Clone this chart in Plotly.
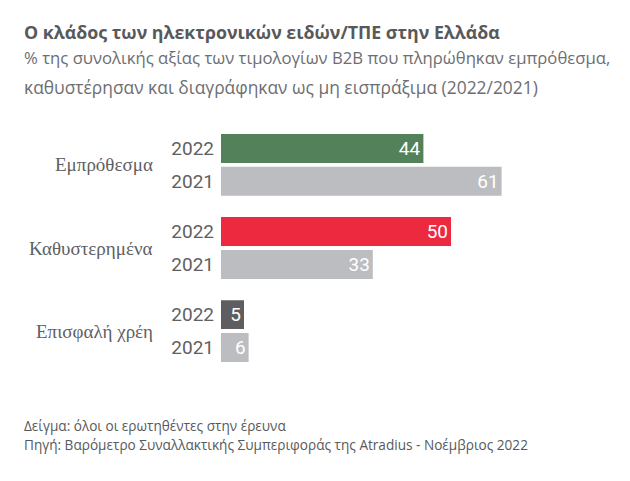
import plotly.graph_objects as go
from plotly.subplots import make_subplots

# data
categories = ["Εμπρόθεσμα", "Καθυστερημένα", "Επισφαλή χρέη"]
years = ["2022", "2021"]
values_2022 = [44, 50, 5]
values_2021 = [61, 33, 6]
colors_2022 = ["#53825a", "#ed2940", "#5e5e60"]
color_2021 = "#bcbdc0"

title_text = "Ο κλάδος των ηλεκτρονικών ειδών/ΤΠΕ στην Ελλάδα"
subtitle_lines = [
    "% της συνολικής αξίας των τιμολογίων B2B που πληρώθηκαν εμπρόθεσμα,",
    "καθυστέρησαν και διαγράφηκαν ως μη εισπράξιμα (2022/2021)",
]
footer_lines = [
    "Δείγμα: όλοι οι ερωτηθέντες στην έρευνα",
    "Πηγή: Βαρόμετρο Συναλλακτικής Συμπεριφοράς της Atradius - Νοέμβριος 2022",
]

text_grey = "#5f6062"

fig = make_subplots(rows=3, cols=1, shared_xaxes=True, vertical_spacing=0.0746)

for i, cat in enumerate(categories):
    fig.add_trace(go.Bar(
        y=years,
        x=[values_2022[i], values_2021[i]],
        orientation="h",
        marker=dict(color=[colors_2022[i], color_2021], line_width=0),
        text=[values_2022[i], values_2021[i]],
        textposition="inside",
        insidetextanchor="end",
        textangle=0,
        textfont=dict(family="Roboto", size=19, color="white"),
        hoverinfo="skip",
        showlegend=False,
    ), row=i + 1, col=1)

    yref = "y domain" if i == 0 else "y%d domain" % (i + 1)
    fig.add_annotation(
        text=cat, xref="paper", yref=yref, x=-0.179, y=0.5,
        xanchor="right", yanchor="middle", showarrow=False,
        font=dict(family="Liberation Serif", size=19, color=text_grey),
    )

fig.update_yaxes(
    autorange="reversed", showgrid=False, zeroline=False, showline=False,
    ticks="", ticklabelstandoff=6,
    tickfont=dict(family="Roboto", size=19, color=text_grey),
)
fig.update_xaxes(range=[0, 80], visible=False, showgrid=False)
fig.update_traces(width=0.88)

# titles and footer (the page adds an 8px body margin, so the figure is 8px smaller)
fig.add_annotation(text="<b>" + title_text + "</b>", xref="paper", yref="paper",
                   x=-0.5408, y=1.431, xanchor="left", yanchor="middle", showarrow=False,
                   font=dict(family="Open Sans", size=17.8, color="#58595b"))
subtitle_sizes = [16.7, 17.4]
for j, line in enumerate(subtitle_lines):
    fig.add_annotation(text=line, xref="paper", yref="paper",
                       x=-0.5408, y=[1.319, 1.194][j], xanchor="left", yanchor="middle",
                       showarrow=False,
                       font=dict(family="Open Sans", size=subtitle_sizes[j], color="#6d6e71"))
for j, line in enumerate(footer_lines):
    fig.add_annotation(text=line, xref="paper", yref="paper",
                       x=-0.5408, y=[-0.267, -0.345][j], xanchor="left", yanchor="middle",
                       showarrow=False,
                       font=dict(family="Open Sans", size=13.6, color="#58595b"))

fig.update_layout(
    width=622, height=473,
    margin=dict(l=213, r=41, t=124, b=117),
    plot_bgcolor="white", paper_bgcolor="white",
    bargap=0.12,
)

fig.write_html("out.html")
